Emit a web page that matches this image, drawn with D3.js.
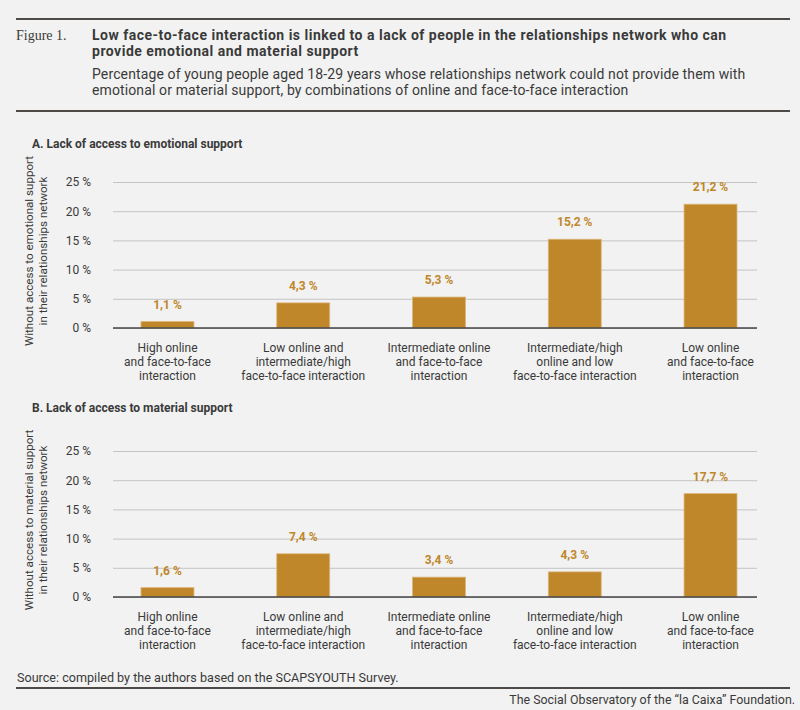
<!DOCTYPE html>
<html>
<head>
<meta charset="utf-8">
<script src="https://cdn.jsdelivr.net/npm/d3@7"></script>
<style>
  html, body { margin: 0; padding: 0; background: #f2f2f2; }
  svg { display: block; font-family: Roboto, "Liberation Sans", sans-serif; }
</style>
</head>
<body>
<svg id="chart" width="800" height="710"></svg>
<script>
// data
const categories = [
  ["High online", "and face-to-face", "interaction"],
  ["Low online and", "intermediate/high", "face-to-face interaction"],
  ["Intermediate online", "and face-to-face", "interaction"],
  ["Intermediate/high", "online and low", "face-to-face interaction"],
  ["Low online", "and face-to-face", "interaction"]
];
const emotionalValues = [1.1, 4.3, 5.3, 15.2, 21.2];
const materialValues = [1.6, 7.4, 3.4, 4.3, 17.7];
const yTicks = [0, 5, 10, 15, 20, 25];

const gold = "#c0862a";
const ink = "#3a3a3a";

const svg = d3.select("#chart");

// header
svg.append("line").attr("x1", 16).attr("x2", 790).attr("y1", 19).attr("y2", 19)
  .attr("stroke", "#4e4a47").attr("stroke-width", 2);
svg.append("line").attr("x1", 16).attr("x2", 790).attr("y1", 111).attr("y2", 111)
  .attr("stroke", "#4e4a47").attr("stroke-width", 2);

svg.append("text").attr("x", 16).attr("y", 40)
  .attr("font-family", "'Liberation Serif', 'DejaVu Serif', serif")
  .attr("font-size", 14).attr("fill", ink).text("Figure 1.");

const title = svg.append("text").attr("x", 92).attr("y", 40)
  .attr("font-size", 14).attr("font-weight", "bold").attr("letter-spacing", 0.5).attr("fill", ink);
title.append("tspan").attr("x", 92).attr("y", 40)
  .text("Low face-to-face interaction is linked to a lack of people in the relationships network who can");
title.append("tspan").attr("x", 92).attr("y", 56)
  .text("provide emotional and material support");

const sub = svg.append("text").attr("font-size", 14).attr("letter-spacing", 0.12).attr("fill", ink);
sub.append("tspan").attr("x", 92).attr("y", 79)
  .text("Percentage of young people aged 18-29 years whose relationships network could not provide them with");
sub.append("tspan").attr("x", 92).attr("y", 95)
  .text("emotional or material support, by combinations of online and face-to-face interaction");

// panels
function drawPanel(values, heading, headingY, yTitle, y0, y25) {
  const g = svg.append("g");

  g.append("text").attr("x", 32).attr("y", headingY)
    .attr("font-size", 12).attr("font-weight", "bold").attr("fill", ink).text(heading);

  const y = d3.scaleLinear().domain([0, 25]).range([y0, y25]);
  const x = d3.scaleBand().domain(d3.range(categories.length))
    .range([99.6, 778.4]).paddingInner(0.61).paddingOuter(0.305);

  // grid + tick labels
  const gridLeft = 113, gridRight = 757;
  const yAxis = g.append("g").attr("transform", `translate(${gridRight},0)`)
    .call(d3.axisLeft(y).tickValues(yTicks).tickSize(gridRight - gridLeft).tickPadding(22)
      .tickFormat(d => d + " %"));
  yAxis.select(".domain").remove();
  yAxis.selectAll(".tick line").attr("stroke", "#c4c4c4").attr("stroke-width", 1);
  yAxis.selectAll(".tick text").attr("font-size", 12).attr("fill", ink)
    .attr("font-family", "Roboto, 'Liberation Sans', sans-serif");

  // bars
  g.selectAll("rect.bar").data(values).join("rect").attr("class", "bar")
    .attr("x", (d, i) => x(i)).attr("width", x.bandwidth())
    .attr("y", d => y(d)).attr("height", d => y(0) - y(d))
    .attr("fill", gold).attr("stroke", "#dcb67a").attr("stroke-width", 0.8);

  // value labels
  g.selectAll("text.val").data(values).join("text").attr("class", "val")
    .attr("x", (d, i) => x(i) + x.bandwidth() / 2).attr("y", d => y(d) - 13)
    .attr("text-anchor", "middle").attr("font-size", 12).attr("font-weight", "bold")
    .attr("fill", gold).text(d => d.toFixed(1).replace(".", ",") + " %");

  // baseline
  g.append("line").attr("x1", gridLeft).attr("x2", gridRight)
    .attr("y1", y(0)).attr("y2", y(0)).attr("stroke", "#444").attr("stroke-width", 1.5);

  // category labels
  const xAxis = g.append("g").attr("transform", `translate(0,${y0})`)
    .call(d3.axisBottom(x).tickSize(0).tickFormat(""));
  xAxis.select(".domain").remove();
  xAxis.selectAll(".tick text").each(function(i) {
    const t = d3.select(this).attr("y", null).attr("dy", null)
      .attr("font-size", 12).attr("fill", ink)
      .attr("font-family", "Roboto, 'Liberation Sans', sans-serif");
    categories[i].forEach((line, k) => {
      t.append("tspan").attr("x", 0).attr("y", 24 + k * 14).text(line);
    });
  });

  // y title
  const mid = (y0 + y25) / 2 - 4;
  const yt = g.append("text").attr("transform", `translate(0,${mid}) rotate(-90)`)
    .attr("text-anchor", "middle").attr("font-size", 11.6).attr("fill", ink);
  yTitle.forEach((line, k) => {
    yt.append("tspan").attr("x", 0).attr("y", 33 + k * 14).text(line);
  });
}

drawPanel(emotionalValues, "A. Lack of access to emotional support", 148,
  ["Without access to emotional support", "in their relationships network"], 328, 182);
drawPanel(materialValues, "B. Lack of access to material support", 412,
  ["Without access to material support", "in their relationships network"], 597, 451);

// footer
svg.append("text").attr("x", 17).attr("y", 682).attr("font-size", 12.6).attr("fill", ink)
  .text("Source: compiled by the authors based on the SCAPSYOUTH Survey.");
svg.append("line").attr("x1", 16).attr("x2", 790).attr("y1", 688).attr("y2", 688)
  .attr("stroke", "#4e4a47").attr("stroke-width", 2);
svg.append("text").attr("x", 795).attr("y", 704).attr("text-anchor", "end")
  .attr("font-size", 12.4).attr("fill", ink)
  .text("The Social Observatory of the \u201Cla Caixa\u201D Foundation.");
</script>
</body>
</html>
